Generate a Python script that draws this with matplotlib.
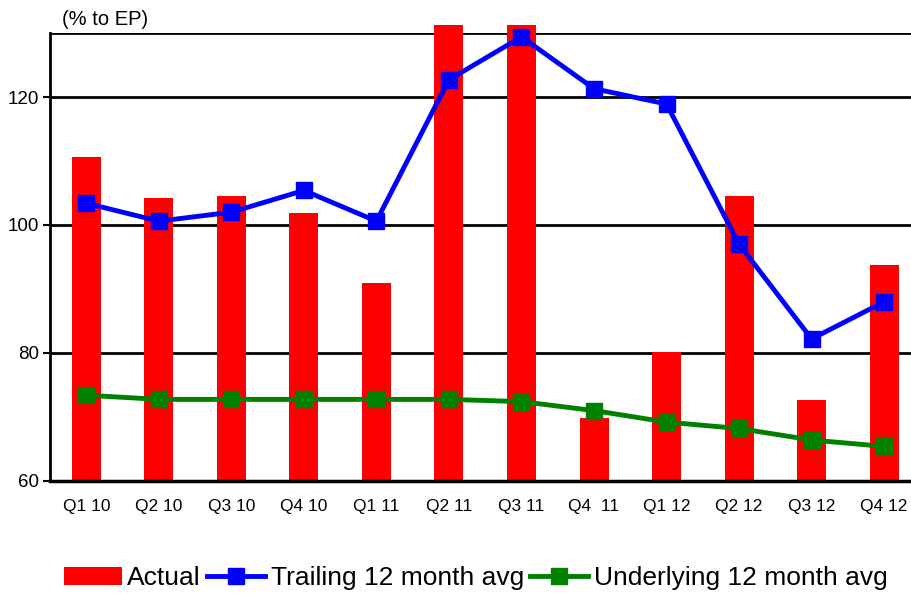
import matplotlib.pyplot as plt
import numpy as np

quarters = ['Q1 10', 'Q2 10', 'Q3 10', 'Q4 10', 'Q1 11', 'Q2 11',
            'Q3 11', 'Q4  11', 'Q1 12', 'Q2 12', 'Q3 12', 'Q4 12']
actual = [110.7, 104.2, 104.6, 101.8, 90.9, 131.2,
          131.2, 69.8, 80.2, 104.6, 72.6, 93.7]
trailing = [103.4, 100.6, 102.0, 105.4, 100.6, 122.7,
            129.4, 121.3, 118.9, 97.0, 82.2, 88.0]
underlying = [73.4, 72.75, 72.75, 72.75, 72.75, 72.75,
              72.4, 71.0, 69.2, 68.2, 66.4, 65.4]

base = 60
plt.rcParams['font.family'] = ['Liberation Sans', 'DejaVu Sans']

fig = plt.figure(figsize=(9.11, 5.96), dpi=100)
ax = fig.add_axes([0.0549, 0.193, 0.9451, 0.7516])

x = np.arange(len(quarters))
bars = ax.bar(x, np.array(actual) - base, bottom=base, width=0.4, color='#ff0000',
              clip_on=False, zorder=2, label='Actual')
l1, = ax.plot(x, trailing, color='#0000ff', lw=3.5, marker='s', ms=11, zorder=4,
              clip_on=False, label='Trailing 12 month avg')
l2, = ax.plot(x, underlying, color='#008000', lw=3.5, marker='s', ms=11, zorder=4,
              clip_on=False, label='Underlying 12 month avg')

ax.set_ylim(base, 130)
ax.set_xlim(-0.5, 11.37)
ax.set_yticks([60, 80, 100, 120])
ax.set_yticklabels(['60', '80', '100', '120'], fontsize=13.5)
ax.set_xticks(x)
ax.set_xticklabels(quarters, fontsize=12.5)
ax.tick_params(axis='x', length=0, pad=13)
ax.tick_params(axis='y', length=5, width=1.5, pad=3)

for v in [80, 100, 120, 130]:
    ax.axhline(v, color='black', lw=2, zorder=1)
ax.spines['right'].set_visible(False)
ax.spines['top'].set_visible(False)
ax.spines['left'].set_linewidth(2)
ax.spines['bottom'].set_linewidth(2.5)
ax.spines['bottom'].set_zorder(5)

fig.text(0.068, 0.958, '(% to EP)', fontsize=14.5)

fig.legend(handles=[bars, l1, l2], loc='center', bbox_to_anchor=(0.522, 0.03),
           ncol=3, frameon=False, prop={'size': 19}, handlelength=2.2,
           handletextpad=0.2, columnspacing=0.25, borderaxespad=0)

fig.savefig('out.png', dpi=100)
